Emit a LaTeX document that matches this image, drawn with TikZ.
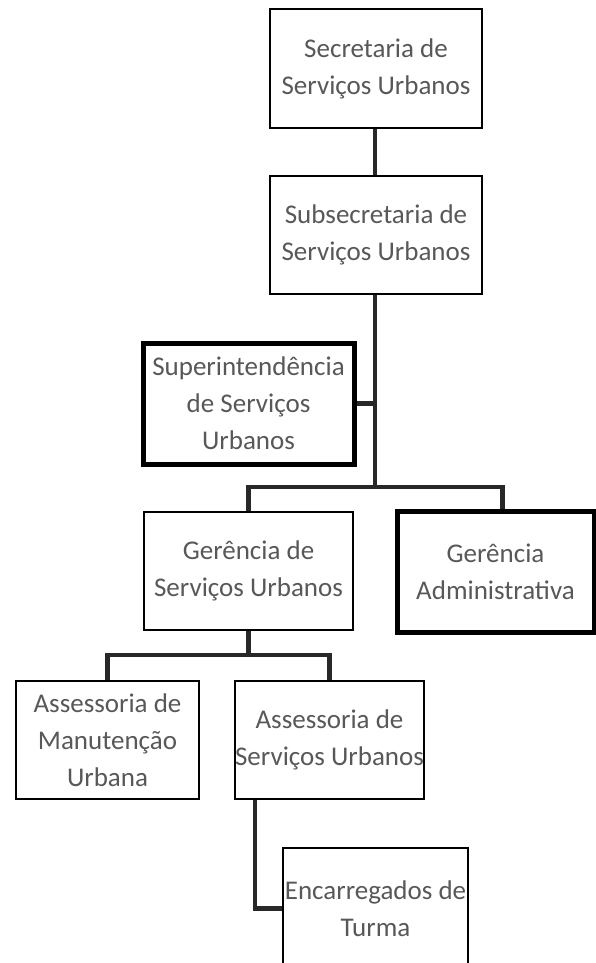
\documentclass[tikz,border=0pt]{standalone}
\usepackage{fontspec}
\setmainfont{Carlito}
\definecolor{txt}{RGB}{88,88,88}
\begin{document}
\begin{tikzpicture}[x=1pt,y=-1pt,
  box/.style={draw=black, line width=1.8pt, rectangle, align=center, text=txt,
    font=\fontsize{27}{37}\selectfont, inner sep=0pt, fill=white},
  thickbox/.style={box, line width=5pt},
  conn/.style={line width=4.5pt, draw={rgb,255:red,40;green,40;blue,40}}]
\clip (0,0) rectangle (596,963);
\fill[white] (0,0) rectangle (596,963);

\node[box, minimum width=212pt, minimum height=119pt] (sec) at (376,68.5) {Secretaria de\\Serviços Urbanos};
\node[box, minimum width=212pt, minimum height=118pt] (sub) at (376,235) {Subsecretaria de\\Serviços Urbanos};
\node[thickbox, minimum width=211pt, minimum height=121pt] (sup) at (248.5,403.5) {Superintendência\\de Serviços\\Urbanos};
\node[box, minimum width=209pt, minimum height=118pt] (ger) at (248.5,571) {Gerência de\\Serviços Urbanos};
\node[thickbox, minimum width=197pt, minimum height=121pt] (adm) at (495.5,571.5) {Gerência\\Administrativa};
\node[box, minimum width=183pt, minimum height=118pt] (man) at (107.5,740) {Assessoria de\\Manutenção\\Urbana};
\node[box, minimum width=185pt, minimum height=118pt] (ass) at (329.5,740) {Assessoria de\\Serviços Urbanos};
\node[box, minimum width=185pt, minimum height=121pt] (enc) at (375.5,908.5) {Encarregados de\\Turma};

\coordinate (br1) at (375,487);
\coordinate (br2) at (248.5,655);

\draw[conn] (sec.south -| 375,0) -- (sub.north -| 375,0);
\draw[conn] (sub.south -| 375,0) -- (br1);
\draw[conn] (sup.east) -- (sup.east -| br1);
\draw[conn] (ger.north) |- (br1) -| ([xshift=7pt]adm.north);
\draw[conn] (ger.south) -- (br2);
\draw[conn] (man.north) |- (br2) -| (ass.north);
\draw[conn] ([xshift=-74.5pt]ass.south) |- (enc.west);
\end{tikzpicture}
\end{document}
